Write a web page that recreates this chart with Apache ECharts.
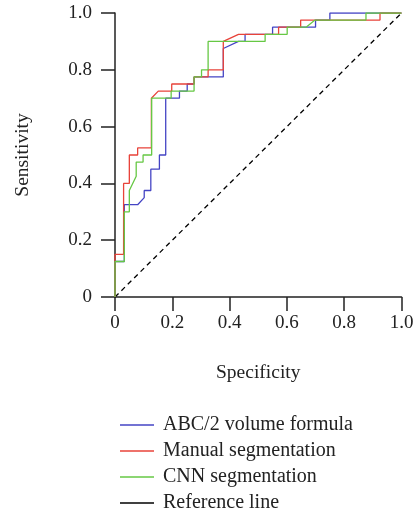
<!DOCTYPE html>
<html>
<head>
<meta charset="utf-8">
<script src="https://cdn.jsdelivr.net/npm/echarts@6/dist/echarts.min.js"></script>
<style>html,body{margin:0;padding:0;background:#fff;}#c{width:417px;height:515px;}</style>
</head>
<body>
<div id="c"></div>
<script>
const seriesNames = ['ABC/2 volume formula', 'Manual segmentation', 'CNN segmentation', 'Reference line'];
const tickValues = [0, 0.2, 0.4, 0.6, 0.8, 1.0];
const tickLabels = ['0', '0.2', '0.4', '0.6', '0.8', '1.0'];

const abcX = [0, 0, 0.0325, 0.0325, 0.079, 0.102, 0.102, 0.125, 0.125, 0.155, 0.155, 0.177, 0.177, 0.225, 0.225, 0.252, 0.252, 0.276, 0.276, 0.378, 0.378, 0.431, 0.454, 0.454, 0.55, 0.55, 0.70, 0.70, 0.75, 0.75, 1];
const abcY = [0, 0.125, 0.125, 0.325, 0.325, 0.35, 0.375, 0.375, 0.45, 0.45, 0.50, 0.50, 0.70, 0.70, 0.725, 0.725, 0.75, 0.75, 0.775, 0.775, 0.875, 0.90, 0.90, 0.925, 0.925, 0.95, 0.95, 0.975, 0.975, 1, 1];

const manX = [0, 0, 0.03, 0.03, 0.05, 0.05, 0.079, 0.079, 0.127, 0.127, 0.151, 0.198, 0.198, 0.276, 0.276, 0.325, 0.325, 0.378, 0.378, 0.431, 0.571, 0.571, 0.648, 0.648, 0.925, 0.925, 1];
const manY = [0, 0.15, 0.15, 0.40, 0.40, 0.50, 0.50, 0.525, 0.525, 0.70, 0.725, 0.725, 0.75, 0.75, 0.775, 0.775, 0.80, 0.80, 0.90, 0.925, 0.925, 0.95, 0.95, 0.975, 0.975, 1, 1];

const cnnX = [0, 0, 0.0325, 0.0325, 0.05, 0.05, 0.074, 0.074, 0.098, 0.098, 0.128, 0.128, 0.196, 0.196, 0.276, 0.276, 0.302, 0.302, 0.325, 0.325, 0.524, 0.524, 0.601, 0.601, 0.667, 0.698, 0.876, 0.876, 1];
const cnnY = [0, 0.125, 0.125, 0.30, 0.30, 0.375, 0.425, 0.475, 0.475, 0.50, 0.50, 0.70, 0.70, 0.725, 0.725, 0.775, 0.775, 0.80, 0.80, 0.90, 0.90, 0.925, 0.925, 0.95, 0.95, 0.975, 0.975, 1, 1];

const refX = [0, 1];
const refY = [0, 1];

const colors = ['#4444c4', '#e8433a', '#66c844', '#000000'];

function zip(xs, ys) { return xs.map((x, i) => [x, ys[i]]); }

const FONT = '"Liberation Serif", "DejaVu Serif", serif';
function fmt(v) {
  const i = tickValues.findIndex(t => Math.abs(t - v) < 1e-9);
  return i >= 0 ? tickLabels[i] : '';
}

const axisCommon = {
  type: 'value', min: 0, max: 1, interval: 0.2,
  splitLine: { show: false },
  axisLine: { show: true, lineStyle: { color: '#222', width: 1.5 } },
  axisTick: { show: true, inside: false, length: 14, lineStyle: { color: '#222', width: 1.5 } },
  nameLocation: 'middle',
  nameTextStyle: { fontFamily: FONT, fontSize: 19.5, color: '#222' }
};

const chart = echarts.init(document.getElementById('c'), null, { renderer: 'canvas' });
const lineSeries = (name, data, color, extra) => Object.assign({
  name, type: 'line', data, showSymbol: false, symbol: 'none', animation: false,
  color, lineStyle: { color, width: 1.3 }, itemStyle: { color }
}, extra || {});

chart.setOption({
  animation: false,
  backgroundColor: '#fff',
  grid: { left: 115, right: 15.5, top: 13, bottom: 218, containLabel: false },
  xAxis: Object.assign({}, axisCommon, {
    name: 'Specificity', nameGap: 66,
    axisLabel: { formatter: fmt, fontFamily: FONT, fontSize: 19, color: '#222', margin: 17 }
  }),
  yAxis: Object.assign({}, axisCommon, {
    name: 'Sensitivity', nameGap: 82,
    axisLabel: { formatter: fmt, fontFamily: FONT, fontSize: 19, color: '#222', margin: 23 }
  }),
  legend: {
    orient: 'vertical', left: 115, top: 410, height: 110, width: 300,
    icon: 'rect', itemWidth: 34, itemHeight: 1.5, itemGap: 6,
    textStyle: { fontFamily: FONT, fontSize: 20, color: '#222', lineHeight: 20, padding: [0, 0, 0, 4] },
    data: seriesNames
  },
  series: [
    lineSeries(seriesNames[0], zip(abcX, abcY), colors[0]),
    lineSeries(seriesNames[1], zip(manX, manY), colors[1]),
    lineSeries(seriesNames[2], zip(cnnX, cnnY), colors[2]),
    lineSeries(seriesNames[3], zip(refX, refY), colors[3], { lineStyle: { color: colors[3], width: 1.3, type: [5, 4] }, z: 1 })
  ]
});
</script>
</body>
</html>
